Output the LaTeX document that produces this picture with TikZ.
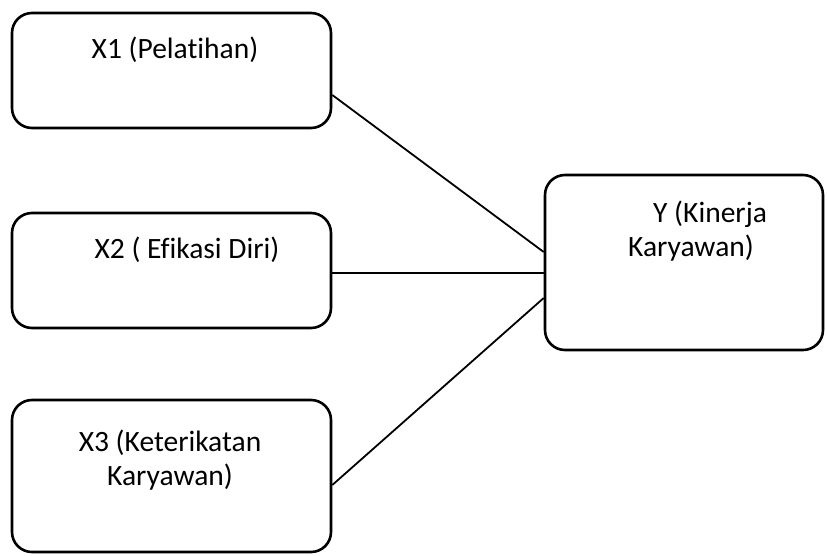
\documentclass[tikz,border=0pt]{standalone}
\usepackage{fontspec}
\setmainfont[Ligatures={NoCommon}]{Carlito}
\begin{document}
\begin{tikzpicture}[x=1pt,y=-1pt,
  box/.style={draw=black,line width=2.6pt,rounded corners=20pt,fill=white,inner sep=0pt},
  lbl/.style={font=\fontsize{29.5}{34}\selectfont,inner sep=0pt,text=black},
  conn/.style={draw=black,line width=1.8pt}]
\useasboundingbox[fill=white] (0,0) rectangle (827,555);
\node[box,minimum width=319pt,minimum height=115pt] (x1) at (171.5,70.5) {};
\node[box,minimum width=319pt,minimum height=115pt] (x2) at (171.5,270.5) {};
\node[box,minimum width=319pt,minimum height=152pt] (x3) at (171.5,476) {};
\node[box,minimum width=278pt,minimum height=175pt] (y) at (684,262.5) {};
\node[lbl] (t1) at (175,50) {X1 (Pelatihan)};
\node[lbl] (t2) at (187,250) {X2 ( Efikasi Diri)};
\node[lbl,align=center] (t3) at (170,460) {X3 (Keterikatan\\Karyawan)};
\node[lbl,align=left,anchor=west] (ty) at (628,231.5) {\hspace{25pt}Y (Kinerja\\Karyawan)};
\draw[conn] ([yshift=-24.5pt]x1.east) -- ([yshift=10.5pt]y.west);
\draw[conn] ([yshift=-2.5pt]x2.east) -- ([yshift=-10.5pt]y.west);
\draw[conn] ([yshift=-9pt]x3.east) -- ([yshift=-35.5pt]y.west);
\end{tikzpicture}
\end{document}
